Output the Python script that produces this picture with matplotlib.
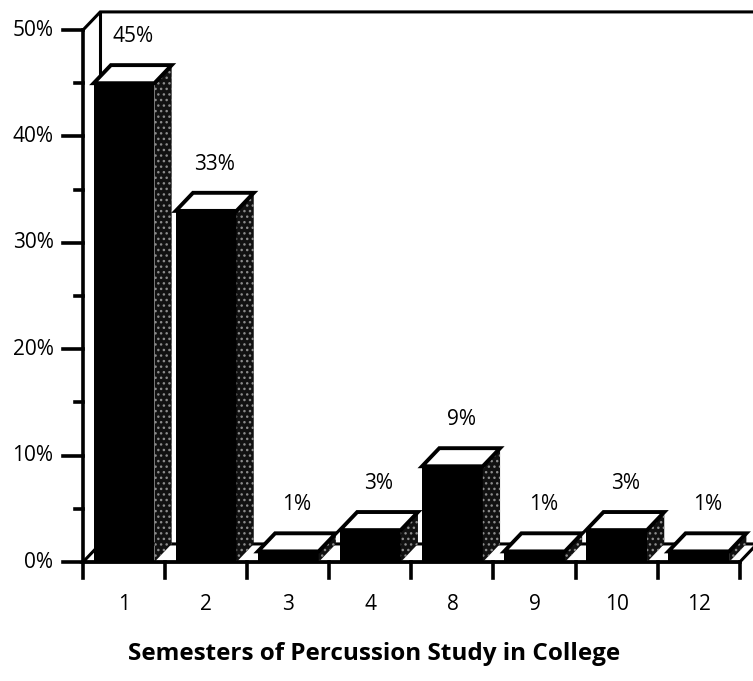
import matplotlib
matplotlib.use("Agg")
import matplotlib.pyplot as plt
from matplotlib.patches import Polygon

plt.rcParams['font.family'] = ['Open Sans', 'DejaVu Sans']

# Data
categories = ['1', '2', '3', '4', '8', '9', '10', '12']
percents = [45, 33, 1, 3, 9, 1, 3, 1]
y_ticks = [0, 10, 20, 30, 40, 50]
y_tick_labels = ['0%', '10%', '20%', '30%', '40%', '50%']
x_title = 'Semesters of Percussion Study in College'

# 3-D look: depth offset of the receding faces (x in slots, y in percent)
DX, DY = 0.21, 1.7
BAR_W = 0.74
LW = 2.2
FS = 15

fig = plt.figure(figsize=(7.53, 6.81), dpi=100)
ax = fig.add_axes([0, 0, 1, 1])
ax.set_xlim(-1.011, 8.161)
ax.set_ylim(-11.18, 52.82)
ax.axis('off')

n = len(categories)

# back wall outline
ax.plot([DX, DX], [DY, 50 + DY], color='black', lw=LW, zorder=0, solid_capstyle='butt')
ax.plot([0, DX, 9.0], [50, 50 + DY, 50 + DY], color='black', lw=LW, zorder=0,
        solid_joinstyle='miter')

# floor
floor = Polygon([(0, 0), (DX, DY), (n + DX, DY), (n, 0)], closed=True,
                facecolor='white', edgecolor='black', lw=LW, zorder=1,
                joinstyle='miter')
ax.add_patch(floor)

# y axis with major and minor ticks
ax.plot([0, 0], [0, 50], color='black', lw=2.6, zorder=6, solid_capstyle='projecting')
for v, lab in zip(y_ticks, y_tick_labels):
    ax.plot([-0.245, 0], [v, v], color='black', lw=2.6, zorder=6)
    ax.text(-0.36, v, lab, ha='right', va='center', fontsize=FS, zorder=7)
for v in range(5, 50, 10):
    ax.plot([-0.1, 0], [v, v], color='black', lw=2.6, zorder=6)

# x axis line with ticks
ax.plot([0, n], [0, 0], color='black', lw=2.6, zorder=6)
for i in range(n + 1):
    ax.plot([i, i], [0, -1.5], color='black', lw=2.6, zorder=6)
for i, c in enumerate(categories):
    ax.text(i + 0.5, -3.95, c, ha='center', va='center', fontsize=FS)

# bars: front, side and top faces
fronts = ax.bar([i + 0.5 for i in range(n)], percents, width=BAR_W,
                color='black', edgecolor='black', lw=0, zorder=3)
for rect, v in zip(fronts, percents):
    x0 = rect.get_x()
    x1 = x0 + rect.get_width()
    # dark stippled side face
    side = Polygon([(x1, 0), (x1 + DX, DY), (x1 + DX, v + DY), (x1, v)],
                   closed=True, facecolor='#111111', edgecolor='#8c8c8c',
                   hatch='...', lw=0, zorder=3)
    ax.add_patch(side)
    top = Polygon([(x0, v), (x0 + DX, v + DY), (x1 + DX, v + DY), (x1, v)],
                  closed=True, facecolor='white', edgecolor='black', lw=2.8,
                  zorder=4, joinstyle='miter')
    ax.add_patch(top)
    ax.text(x0 + BAR_W / 2 + DX / 2, v + DY + 2.7, f'{v}%',
            ha='center', va='center', fontsize=FS, zorder=7)

ax.text(4.0 - 0.45, -8.6, x_title, ha='center', va='center',
        fontsize=17.5, fontweight='bold')

fig.savefig('out.png', dpi=100)
